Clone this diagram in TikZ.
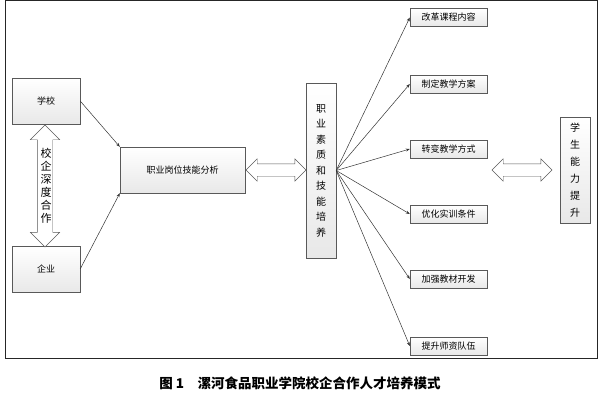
\documentclass[tikz,border=0pt]{standalone}
\usepackage{fontspec}
\setmainfont{Noto Sans CJK SC}
\usetikzlibrary{shapes.arrows,arrows.meta}
\begin{document}
\begin{tikzpicture}[x=1pt,y=-1pt,
  bx/.style={draw=gray!70!black,top color=white,bottom color=gray!18,inner sep=0pt,font=\fontsize{9}{10}\selectfont},
  con/.style={draw=gray!40!black,line width=0.5pt,-{Stealth[length=4pt,width=3pt]}},
  dbl/.style={double arrow,draw=gray!70!black,fill=white,minimum height=#1,double arrow head extend=5pt,inner xsep=0pt,inner ysep=6pt}]
\useasboundingbox (0,0) rectangle (600,400);
\draw[gray!30!black,line width=0.8pt] (5,0) rectangle (597,358);
\node[bx,minimum width=68pt,minimum height=46pt] (xx) at (46,101) {学校};
\node[bx,minimum width=68pt,minimum height=46pt] (qy) at (46,269) {企业};
\node[dbl=122pt,rotate=90,inner ysep=7.5pt,double arrow head extend=7pt] (va) at (45,186) {};
\node[font=\fontsize{11}{13}\selectfont,align=center,inner sep=0pt] (vt) at (46,186) {校\\企\\深\\度\\合\\作};
\node[bx,minimum width=125pt,minimum height=46pt] (gw) at (182.5,170) {职业岗位技能分析};
\node[dbl=60pt] (h1) at (276,170) {};
\node[bx,minimum width=30pt,minimum height=175pt,align=center,font=\fontsize{10}{15.5}\selectfont] (sz) at (321,170.5) {职\\业\\素\\质\\和\\技\\能\\培\\养};
\foreach \n/\y/\t in {a/17.5/改革课程内容,b/84/制定教学方案,c/149/转变教学方式,d/214/优化实训条件,e/279/加强教材开发,f/346/提升师资队伍}{
  \node[bx,minimum width=77pt,minimum height=18pt] (\n) at (448.5,\y) {\t};
  \draw[con] (sz.east) -- (\n.west);
}
\node[dbl=60pt] (h2) at (522,170) {};
\node[bx,minimum width=30pt,minimum height=106pt,align=center,font=\fontsize{10}{17}\selectfont] (ts) at (575,170) {学\\生\\能\\力\\提\\升};
\draw[con] (xx.east) -- (gw.north west);
\draw[con] (qy.east) -- (gw.south west);
\node[font=\bfseries\fontsize{13.5}{15}\selectfont] (cap) at (300,383) {图 1\quad 漯河食品职业学院校企合作人才培养模式};
\end{tikzpicture}
\end{document}
